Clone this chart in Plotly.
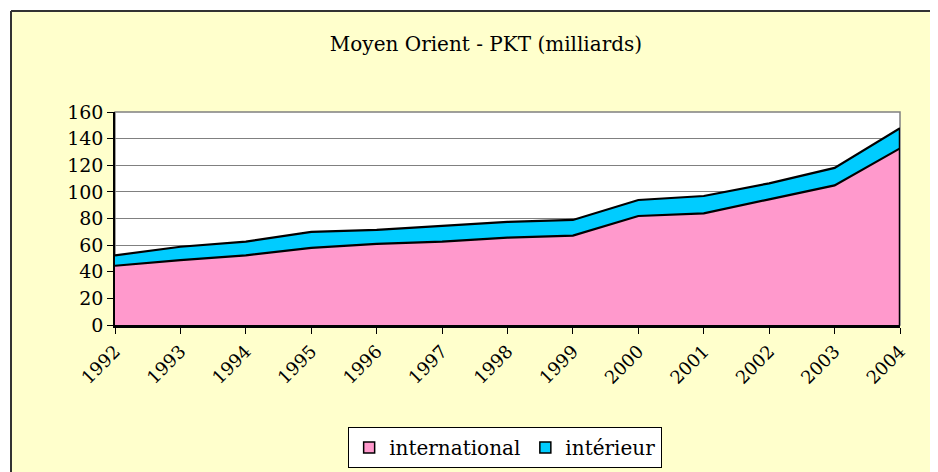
import plotly.graph_objects as go

years = [1992, 1993, 1994, 1995, 1996, 1997, 1998, 1999, 2000, 2001, 2002, 2003, 2004]
year_labels = [str(y) for y in years]
international = [44.5, 48.8, 52.3, 58.0, 61.0, 62.6, 65.6, 67.1, 81.9, 83.9, 94.4, 104.9, 132.7]
interieur = [7.8, 10.0, 10.3, 11.9, 10.4, 11.8, 11.8, 11.8, 12.0, 13.0, 12.0, 13.1, 15.1]

title_text = "Moyen Orient - PKT (milliards)"
series_names = ["international", "intérieur"]
colors = ["#FF99CC", "#00CCFF"]
font_family = "DejaVu Serif"

# page body has an 8px margin: the figure is drawn from (8, 8)
OFF = 8
W, H = 938 - OFF, 472 - OFF

fig = go.Figure()
fig.add_trace(go.Scatter(x=years, y=international, name=series_names[0], stackgroup="s",
                         mode="lines", line=dict(color="black", width=2.2),
                         fillcolor=colors[0], showlegend=False, hoverinfo="x+y"))
fig.add_trace(go.Scatter(x=years, y=interieur, name=series_names[1], stackgroup="s",
                         mode="lines", line=dict(color="black", width=2.2),
                         fillcolor=colors[1], showlegend=False, hoverinfo="x+y"))
# right-hand edge of the stacked area
total_last = international[-1] + interieur[-1]
fig.add_trace(go.Scatter(x=[years[-1], years[-1]], y=[0, total_last], mode="lines",
                         line=dict(color="black", width=2.5), showlegend=False, hoverinfo="skip"))
# legend entries
for name, col in zip(series_names, colors):
    fig.add_trace(go.Scatter(x=[None], y=[None], mode="markers", name=name,
                             marker=dict(symbol="square", size=11, color=col,
                                         line=dict(color="black", width=1.5))))

fig.update_layout(
    width=W, height=H,
    margin=dict(l=115 - OFF, r=38, t=112 - OFF, b=147),
    paper_bgcolor="#FFFFCC",
    plot_bgcolor="white",
    font=dict(family=font_family, color="black", size=18),
    title=dict(text=title_text, x=0.4726, xref="paper", xanchor="center",
               y=(H - (44 - OFF)) / H, yanchor="middle",
               font=dict(family=font_family, size=20, color="black")),
    showlegend=True,
    legend=dict(orientation="h", x=0.497, xanchor="center",
                yref="container", y=1 - (427 - OFF) / H, yanchor="top",
                bgcolor="white", bordercolor="black", borderwidth=1, traceorder="normal",
                font=dict(family=font_family, size=20, color="black"),
                itemwidth=30, tracegroupgap=0),
)
fig.update_xaxes(range=[years[0], years[-1]], tickmode="array", tickvals=years, ticktext=year_labels,
                 tickangle=-45, ticks="outside", ticklen=6, tickcolor="black", tickwidth=1,
                 showline=True, linecolor="black", linewidth=2.5, showgrid=False, zeroline=False,
                 automargin=False,
                 tickfont=dict(family=font_family, size=18, color="black"))
fig.update_yaxes(range=[0, 160], dtick=20, tick0=0, ticks="outside", ticklen=6, tickcolor="black",
                 showline=True, linecolor="black", linewidth=1.5,
                 showgrid=True, gridcolor="#808080", gridwidth=1, zeroline=False,
                 automargin=False,
                 tickfont=dict(family=font_family, size=19, color="black"))

# plot-area frame (gray), outer chart border and white margin outside it
bx = (11 - 115) / 785
by = (325 - 11) / 213
fig.add_shape(type="rect", xref="paper", yref="paper", x0=0, y0=0, x1=1, y1=1,
              line=dict(color="#808080", width=1.5), layer="below")
fig.add_shape(type="rect", xref="paper", yref="paper", x0=-0.3, x1=1.2, y0=by, y1=1.8,
              fillcolor="white", line=dict(width=0), layer="below")
fig.add_shape(type="rect", xref="paper", yref="paper", x0=-0.3, x1=bx, y0=-1.2, y1=1.8,
              fillcolor="white", line=dict(width=0), layer="below")
fig.add_shape(type="line", xref="paper", yref="paper", x0=bx, x1=1.2, y0=by, y1=by,
              line=dict(color="#333333", width=2))
fig.add_shape(type="line", xref="paper", yref="paper", x0=bx, x1=bx, y0=-1.2, y1=by,
              line=dict(color="#333333", width=2))

fig.write_html("out.html")
